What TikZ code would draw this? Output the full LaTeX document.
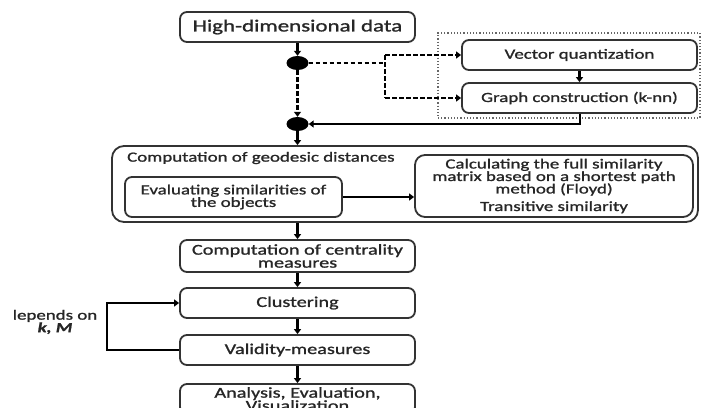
\documentclass[tikz,border=0pt]{standalone}
\usepackage{fontspec}
\setmainfont{Carlito}[FakeStretch=1.35,FakeBold=1.2]
\usetikzlibrary{arrows.meta,shapes.geometric}
\begin{document}
\begin{tikzpicture}[x=1pt,y=-1pt,
  txt/.style={font=\fontsize{14}{12.5}\selectfont, text=black!85},
  bigtxt/.style={font=\fontsize{15}{13}\selectfont},
  box/.style={txt, draw=black!80, line width=1.8pt, rounded corners=7pt, align=center, inner sep=0pt},
  arr/.style={line width=2.6pt, -{Triangle[length=5pt,width=7pt]}},
  dline/.style={line width=2.4pt, dash pattern=on 4.5pt off 2.5pt},
  blob/.style={ellipse, fill=black, minimum width=22pt, minimum height=14pt, inner sep=0pt}
]
\useasboundingbox (0,0) rectangle (701,407);
\clip (0,0) rectangle (701,407);

% top part
\node[box, font=\fontsize{17}{14}\selectfont, minimum width=235pt, minimum height=30pt] (hd) at (297.5,27) {High-dimensional data};
\node[blob] (c1) at (297.5,63) {};
\node[blob] (c2) at (297.5,124) {};
\node[draw=black!60, dotted, line width=1.2pt, minimum width=262pt, minimum height=85pt, inner sep=0pt] (grp) at (569,75.5) {};
\node[box, minimum width=235pt, minimum height=30pt] (vq) at (579.5,55) {Vector quantization};
\node[box, minimum width=235pt, minimum height=30pt] (gc) at (579.5,98) {Graph construction (k-nn)};

\coordinate (j1) at (385,63);
\coordinate (ja) at (385,55);
\coordinate (jb) at (385,98);
\coordinate (j2) at (579.5,124);

\draw[arr] (hd.south) -- (c1.north);
\draw[arr, dline] (c1.south) -- (c2.north);
\draw[dline] (c1.east) -- (j1);
\draw[dline] (ja) -- (jb);
\draw[arr, dline, line width=2pt] (ja) -- (vq.west);
\draw[arr, dline, line width=2pt] (jb) -- (gc.west);
\draw[arr] (vq.south) -- (gc.north);
\draw[arr, line width=2pt] (gc.south) -- (j2) -- (c2.east);

% geodesic block
\node[box, rounded corners=12pt, minimum width=586pt, minimum height=76pt] (geo) at (405,184) {};
\node[txt, anchor=west, inner sep=0pt] (geot) at (127,158) {Computation of geodesic distances};
\node[box, minimum width=217pt, minimum height=40pt] (ev) at (233.5,197) {Evaluating similarities of\\the objects};
\node[box, rounded corners=10pt, minimum width=278pt, minimum height=62pt] (fl) at (554,186) {Calculating the full similarity\\matrix based on a shortest path\\method (Floyd)\\[5pt]Transitive similarity};
\draw[arr] (c2.south) -- (c2.south |- geo.north);
\draw[arr, line width=2pt] (ev.east) -- (ev.east -| fl.west);

% lower chain
\node[box, bigtxt, minimum width=235pt, minimum height=32pt] (cen) at (297.5,256) {Computation of centrality\\measures};
\node[box, bigtxt, minimum width=235pt, minimum height=30pt] (clu) at (297.5,303) {Clustering};
\node[box, bigtxt, minimum width=235pt, minimum height=30pt] (val) at (297.5,350) {Validity-measures};
\node[box, bigtxt, minimum width=235pt, minimum height=30pt] (ana) at (297.5,399) {Analysis, Evaluation,\\Visualization};

\draw[arr] (cen.north |- geo.south) -- (cen.north);
\draw[arr] (cen.south) -- (clu.north);
\draw[arr] (clu.south) -- (val.north);
\draw[arr] (val.south) -- (ana.north);

\coordinate (fb) at (107,350);
\draw[arr, line width=2pt] (val.west) -- (fb) |- (clu.west);
\node[txt, align=center, inner sep=0pt] (dep) at (55,322) {lepends on\\\textbf{\textit{k, M}}};
\end{tikzpicture}
\end{document}
